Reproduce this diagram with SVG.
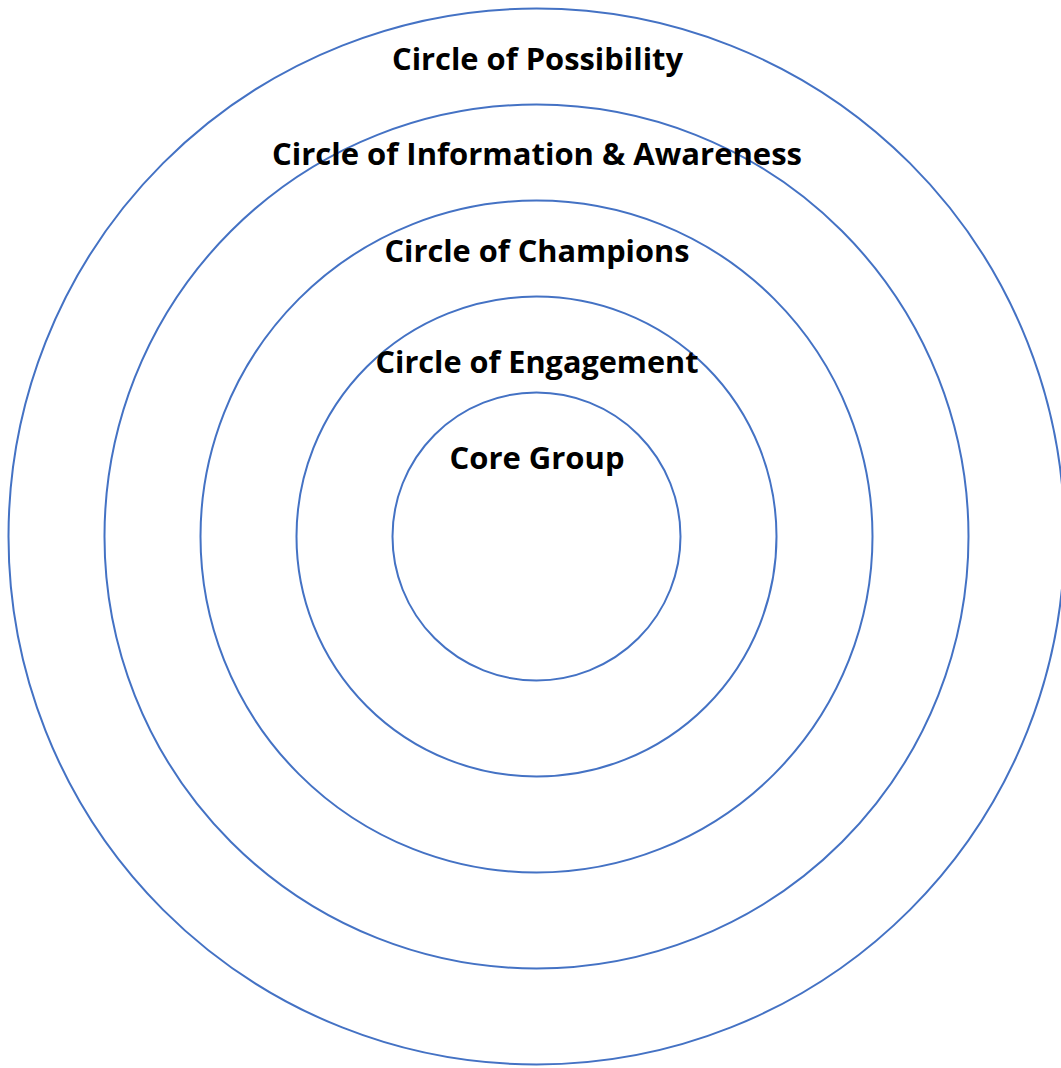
<svg xmlns="http://www.w3.org/2000/svg" width="1061" height="1068" viewBox="0 0 1061 1068">
<style>
.ring{fill:none;stroke:#4472C4;stroke-width:2}
.lbl{font-family:"Open Sans","Noto Sans","Liberation Sans",sans-serif;font-weight:bold;font-size:31px;fill:#000;text-anchor:middle}
</style>
<rect width="1061" height="1068" fill="#fff"/>
<g id="circle-possibility">
<circle class="ring" cx="536.5" cy="536.5" r="528"/>
<text class="lbl" x="537.5" y="70" textLength="291" lengthAdjust="spacingAndGlyphs">Circle of Possibility</text>
</g>
<g id="circle-information">
<circle class="ring" cx="536.5" cy="536.5" r="432"/>
<text class="lbl" x="537" y="165" textLength="530" lengthAdjust="spacingAndGlyphs">Circle of Information &amp; Awareness</text>
</g>
<g id="circle-champions">
<circle class="ring" cx="536.5" cy="536.5" r="336"/>
<text class="lbl" x="537" y="262" textLength="305" lengthAdjust="spacingAndGlyphs">Circle of Champions</text>
</g>
<g id="circle-engagement">
<circle class="ring" cx="536.5" cy="536.5" r="240"/>
<text class="lbl" x="537" y="373" textLength="323" lengthAdjust="spacingAndGlyphs">Circle of Engagement</text>
</g>
<g id="core-group">
<circle class="ring" cx="536.5" cy="536.5" r="144"/>
<text class="lbl" x="537" y="469" textLength="175" lengthAdjust="spacingAndGlyphs">Core Group</text>
</g>
<g id="connectors"></g>
</svg>
